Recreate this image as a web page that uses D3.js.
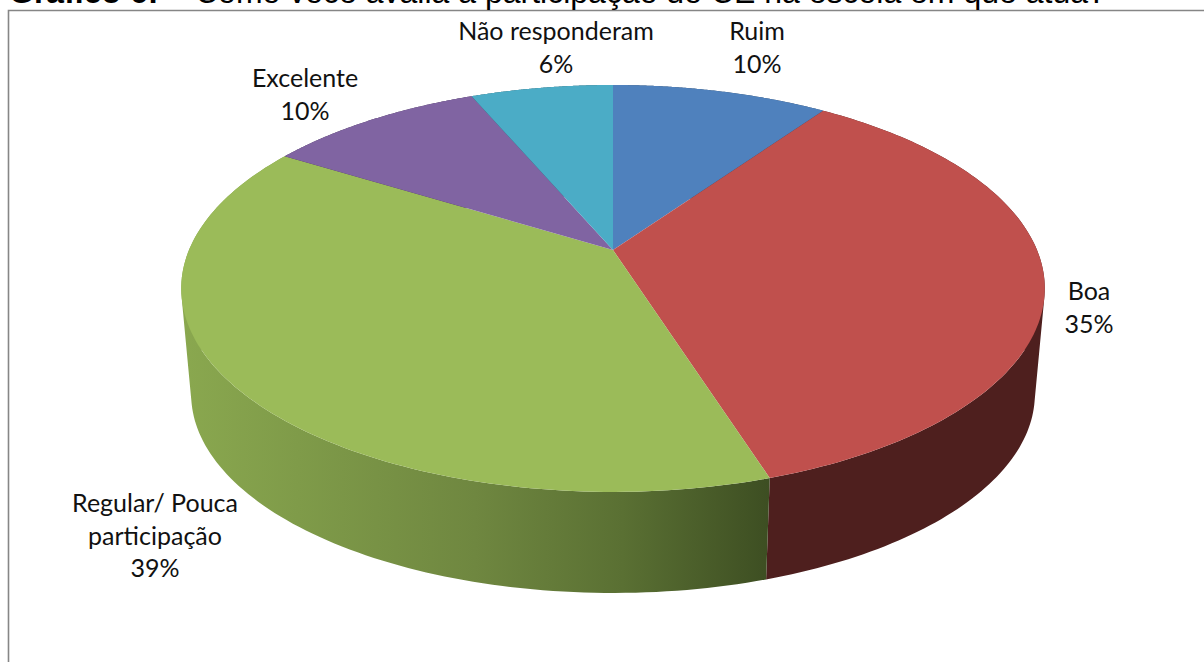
<!DOCTYPE html>
<html><head><meta charset="utf-8">
<script src="https://cdn.jsdelivr.net/npm/d3@7"></script>
<style>html,body{margin:0;padding:0;background:#fff;overflow:hidden}svg{display:block}</style>
</head><body><svg id="c" width="1204" height="662"></svg>
<script>
const categories = ["Ruim","Boa","Regular/ Pouca participação","Excelente","Não responderam"];
const values = [9.7,35.4,38.7,9.8,6.4];
const topColors = ["#4f81bd","#c0504d","#9bbb59","#8064a2","#4bacc6"];
const sideColors = ["#2a4361","#4e1f1e","url(#greenSide)","#423353","#255a68"];
const titleBold = "Gráfico 6:";
const titleRest = "Como você avalia a participação do CE na escola em que atua?";

// layout
const labelLines = [["Ruim"],["Boa"],["Regular/ Pouca"," participação"],["Excelente"],["Não responderam"]];
const labelAt = [[757,40],[1089,300],[155,512],[305,87],[556,40]];
const cx=613, y0=250, A=424, B=196.2, k=0.189, scaleBottom=0.977, y0Bottom=356.6;

const svg=d3.select("#c");
const defs=svg.append("defs");
const g=defs.append("linearGradient").attr("id","greenSide").attr("gradientUnits","userSpaceOnUse")
  .attr("x1",180).attr("x2",770).attr("y1",0).attr("y2",0);
[[0,"#8aa84f"],[0.2,"#7f9b49"],[0.5,"#6f8740"],[0.75,"#5a7033"],[1,"#3d4e22"]]
  .forEach(s=>g.append("stop").attr("offset",s[0]).attr("stop-color",s[1]));

// rectangle frame
svg.append("path").attr("d","M8.5,662V10.5H1204").attr("fill","none").attr("stroke","#868686").attr("stroke-width",1.6);

// title, cut by the top of the page as in the reference
const t=svg.append("text").attr("x",9).attr("y",3).attr("font-family","Liberation Sans").attr("font-size",32).attr("fill","#000");
t.append("tspan").attr("font-weight","bold").text(titleBold);
t.append("tspan").attr("x",195).text(titleRest);

const pie=d3.pie().sort(null).value(d=>d)(values);
const project=(a,s,y)=>{const u=Math.sin(a),v=-Math.cos(a),w=1-k*v;return [cx+s*A*u/w,y+s*B*v/w];};
const arcPts=(a0,a1,s,y)=>d3.range(0,121).map(i=>project(a0+(a1-a0)*i/120,s,y));
const line=d3.line();

// side walls: a ruled strip from the upper rim to the lower rim, each quad wound the same way
const wall=d=>{
  const up=arcPts(d.startAngle,d.endAngle,1,y0), lo=arcPts(d.startAngle,d.endAngle,scaleBottom,y0Bottom);
  return d3.range(120).map(i=>{
    const q=[up[i],up[i+1],lo[i+1],lo[i]];
    if(d3.polygonArea(q)<0) q.reverse();
    return line(q)+"Z";
  }).join("");
};
svg.append("g").selectAll("path").data(pie).join("path")
  .attr("d",wall).attr("fill",(d,i)=>sideColors[i]);

// top faces
svg.append("g").selectAll("path").data(pie).join("path")
  .attr("d",d=>line([[cx,y0]].concat(arcPts(d.startAngle,d.endAngle,1,y0)))+"Z")
  .attr("fill",(d,i)=>topColors[i]);

// labels
const total=d3.sum(values), pct=d3.format(".0%");
const lg=svg.append("g").attr("font-family","Lato").attr("font-size",25).attr("fill","#111").attr("text-anchor","middle");
categories.forEach((c,i)=>{
  const lines=labelLines[i].concat(pct(values[i]/total));
  lines.forEach((s,j)=>lg.append("text").attr("x",labelAt[i][0]).attr("y",labelAt[i][1]+j*32.5).text(s));
});
</script></body></html>
